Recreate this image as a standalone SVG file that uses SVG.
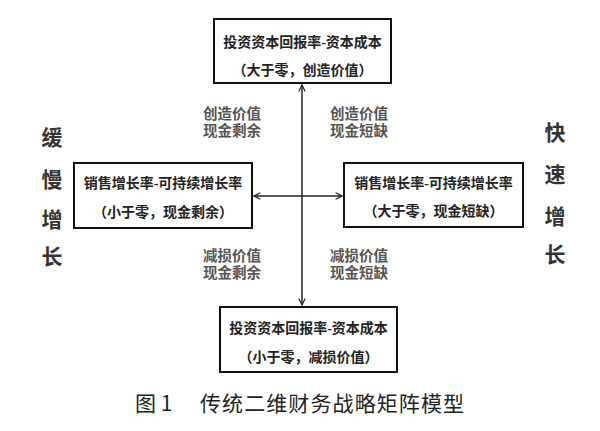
<svg xmlns="http://www.w3.org/2000/svg" width="600" height="431" viewBox="0 0 600 431">
<style>
.box{fill:#fff;stroke:#111;stroke-width:2}
.bt{font-family:"Liberation Serif","Noto Sans CJK SC",serif;font-size:14px;font-weight:bold;fill:#222;text-anchor:middle}
.gl{font-family:"Liberation Sans","Noto Sans CJK SC",sans-serif;font-size:14.5px;font-weight:bold;fill:#555;text-anchor:middle}
.side{font-family:"Noto Sans CJK SC",sans-serif;font-size:21px;font-weight:bold;fill:#333;text-anchor:middle}
.cap{font-family:"Noto Sans CJK SC",sans-serif;font-size:21px;fill:#222}
.ln{stroke:#222;stroke-width:1.5;fill:none}
</style>
<defs>
<marker id="ah" viewBox="0 0 10 10" refX="9" refY="5" markerWidth="8" markerHeight="8" orient="auto-start-reverse" markerUnits="userSpaceOnUse">
<path d="M1,1 L9,5 L1,9" fill="none" stroke="#222" stroke-width="1.5"/>
</marker>
</defs>
<rect width="600" height="431" fill="#fff"/>
<g id="connectors">
<line class="ln" x1="302" y1="85" x2="302" y2="305" marker-start="url(#ah)" marker-end="url(#ah)"/>
<line class="ln" x1="254" y1="196" x2="342" y2="196" marker-start="url(#ah)" marker-end="url(#ah)"/>
</g>
<g id="top">
<rect class="box" x="214" y="19" width="177" height="64"/>
<text class="bt" x="302.5" y="47">投资资本回报率-资本成本</text>
<text class="bt" x="302.5" y="75">（大于零，创造价值）</text>
</g>
<g id="left">
<rect class="box" x="74" y="163" width="178" height="65"/>
<text class="bt" x="163" y="188">销售增长率-可持续增长率</text>
<text class="bt" x="163" y="217">（小于零，现金剩余）</text>
</g>
<g id="right">
<rect class="box" x="344" y="163" width="179" height="64"/>
<text class="bt" x="433.5" y="188">销售增长率-可持续增长率</text>
<text class="bt" x="433.5" y="216">（大于零，现金短缺）</text>
</g>
<g id="bottom">
<rect class="box" x="220" y="307" width="177" height="65"/>
<text class="bt" x="308.5" y="333">投资资本回报率-资本成本</text>
<text class="bt" x="308.5" y="362">（小于零，减损价值）</text>
</g>
<g id="quadrant-labels">
<text class="gl" x="232" y="119">创造价值</text>
<text class="gl" x="232" y="135.5">现金剩余</text>
<text class="gl" x="359" y="119">创造价值</text>
<text class="gl" x="359" y="135.5">现金短缺</text>
<text class="gl" x="232" y="261">减损价值</text>
<text class="gl" x="232" y="277.5">现金剩余</text>
<text class="gl" x="359" y="261">减损价值</text>
<text class="gl" x="359" y="277.5">现金短缺</text>
</g>
<g id="slow">
<text class="side" x="52" y="145">缓</text>
<text class="side" x="52" y="187">慢</text>
<text class="side" x="52" y="227">增</text>
<text class="side" x="52" y="264">长</text>
</g>
<g id="fast">
<text class="side" x="555" y="140">快</text>
<text class="side" x="555" y="182">速</text>
<text class="side" x="555" y="224">增</text>
<text class="side" x="555" y="262">长</text>
</g>
<g id="caption">
<text class="cap" x="135" y="411">图 1</text>
<text class="cap" x="200" y="411" textLength="264" lengthAdjust="spacing">传统二维财务战略矩阵模型</text>
</g>
</svg>
